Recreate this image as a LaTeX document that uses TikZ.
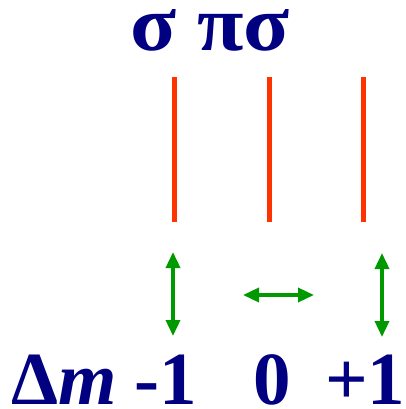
\documentclass[tikz,border=0pt]{standalone}
\usepackage{fontspec}
\setmainfont{Liberation Serif}
\usepackage{xcolor}
\usetikzlibrary{arrows.meta}
\definecolor{labelblue}{HTML}{000080}
\definecolor{linered}{HTML}{FF3300}
\definecolor{arrowgreen}{HTML}{009900}
\tikzset{
  bigtext/.style={inner sep=0pt,anchor=base west,text height=40pt,text depth=0pt,text=labelblue,font=\fontsize{75}{80}\selectfont\bfseries},
  redline/.style={line width=5pt,linered},
  polarrow/.style={{Triangle[width=14pt,length=16pt]}-{Triangle[width=14pt,length=16pt]},line width=3.5pt,arrowgreen}
}
\begin{document}
\begin{tikzpicture}[x=1pt,y=-1pt]
  \useasboundingbox (0,0) rectangle (405,409);
  \node[bigtext] (title) at (130,51) {\scalebox{1.13}[1.05]{σ πσ}};
  \foreach \xx/\nm in {174/sl,269/pi,363/sr}{
    \coordinate (\nm top) at (\xx,77);
    \coordinate (\nm bot) at (\xx,222);
    \draw[redline] (\nm top)--(\nm bot);
  }
  \coordinate (la) at (173,252);
  \coordinate (lb) at (173,336);
  \coordinate (ma) at (243,295);
  \coordinate (mb) at (314,295);
  \coordinate (ra) at (382,253);
  \coordinate (rb) at (382,337);
  \draw[polarrow] (la)--(lb);
  \draw[polarrow] (ma)--(mb);
  \draw[polarrow] (ra)--(rb);
  \node[bigtext] (dm) at (11,404) {Δ\textit{m}};
  \node[bigtext] (mone) at (134,404) {-1};
  \node[bigtext] (zero) at (253,404) {0};
  \node[bigtext] (pone) at (325,404) {+1};
\end{tikzpicture}
\end{document}
